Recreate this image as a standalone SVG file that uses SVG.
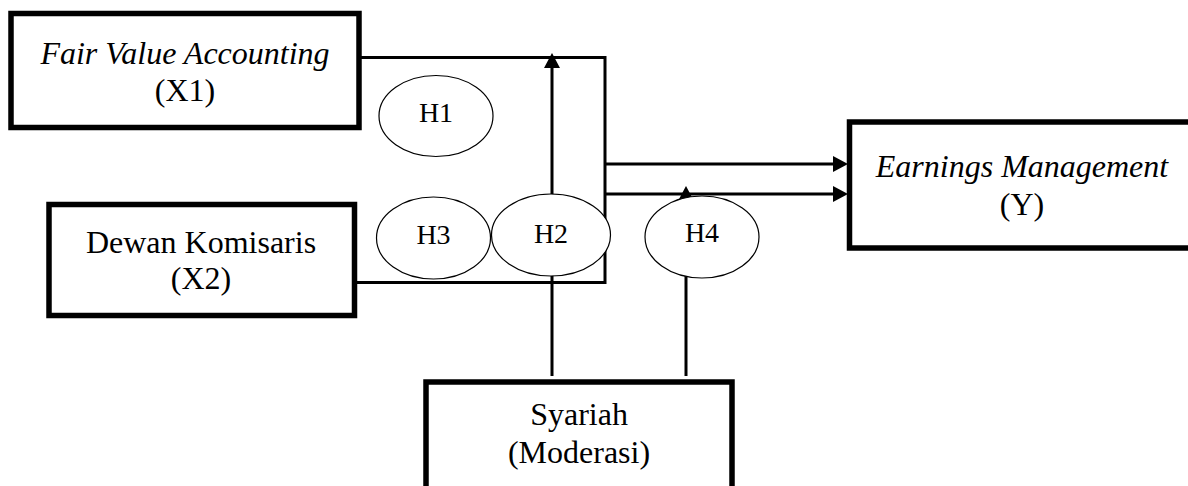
<svg xmlns="http://www.w3.org/2000/svg" width="1188" height="486" viewBox="0 0 1188 486">
  <style>
    .box { fill: #ffffff; stroke: #000000; stroke-width: 5.5; }
    .hyp { fill: #ffffff; stroke: #000000; stroke-width: 1.2; }
    .conn { fill: none; stroke: #000000; stroke-width: 3; }
    .t { font-family: "Liberation Serif", "Times New Roman", serif; font-size: 32px; fill: #000000; text-anchor: middle; }
    .it { font-style: italic; }
    .h { font-family: "Liberation Serif", "Times New Roman", serif; font-size: 28px; fill: #000000; text-anchor: middle; }
  </style>
  <defs>
    <marker id="arrow" markerUnits="userSpaceOnUse" markerWidth="15" markerHeight="16" viewBox="0 0 15 16" refX="0" refY="8" orient="auto">
      <path d="M0,0 L15,8 L0,16 z" fill="#000000"/>
    </marker>
  </defs>
  <rect width="1188" height="486" fill="#ffffff"/>

  <g id="connectors">
    <polyline class="conn" points="359,57.5 605,57.5 605,282.5 357,282.5"/>
    <line class="conn" x1="605" y1="164" x2="833" y2="164" marker-end="url(#arrow)"/>
    <line class="conn" x1="605" y1="194" x2="833" y2="194" marker-end="url(#arrow)"/>
    <line class="conn" x1="552" y1="376" x2="552" y2="68" marker-end="url(#arrow)"/>
    <line class="conn" x1="686" y1="376" x2="686" y2="201" marker-end="url(#arrow)"/>
  </g>

  <g id="node-x1">
    <rect class="box" x="11" y="13.5" width="348" height="114"/>
    <text class="t it" x="185" y="64">Fair Value Accounting</text>
    <text class="t" x="185" y="101">(X1)</text>
  </g>

  <g id="node-x2">
    <rect class="box" x="49" y="204.5" width="305.5" height="111"/>
    <text class="t" x="201" y="253">Dewan Komisaris</text>
    <text class="t" x="201" y="289">(X2)</text>
  </g>

  <g id="node-y">
    <rect class="box" x="849.5" y="122" width="350" height="126"/>
    <text class="t it" x="1022" y="177">Earnings Management</text>
    <text class="t" x="1022" y="215">(Y)</text>
  </g>

  <g id="node-syariah">
    <rect class="box" x="426" y="382" width="306" height="120"/>
    <text class="t" x="579" y="425">Syariah</text>
    <text class="t" x="579" y="463">(Moderasi)</text>
  </g>

  <g id="node-h1">
    <ellipse class="hyp" cx="436" cy="116" rx="57" ry="40.5"/>
    <text class="h" x="436" y="122">H1</text>
  </g>
  <g id="node-h3">
    <ellipse class="hyp" cx="433.5" cy="238" rx="57" ry="41"/>
    <text class="h" x="433.5" y="244">H3</text>
  </g>
  <g id="node-h2">
    <ellipse class="hyp" cx="551" cy="235" rx="59.5" ry="41"/>
    <text class="h" x="551" y="243">H2</text>
  </g>
  <g id="node-h4">
    <ellipse class="hyp" cx="702" cy="237" rx="57" ry="41"/>
    <text class="h" x="702" y="242">H4</text>
  </g>
</svg>
